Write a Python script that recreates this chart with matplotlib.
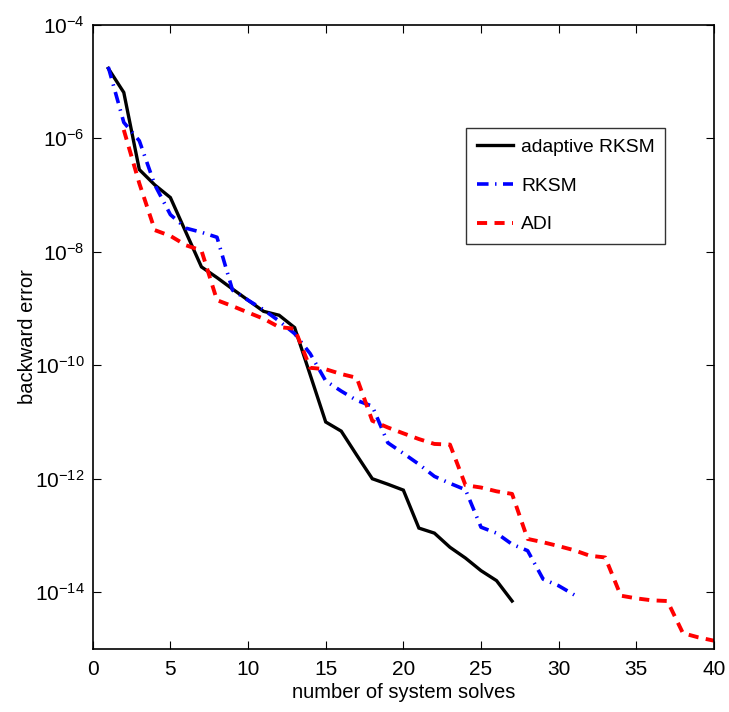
import matplotlib
matplotlib.use("Agg")
import matplotlib.pyplot as plt
from matplotlib.ticker import LogFormatterMathtext, NullLocator

plt.rcParams['font.family'] = ['Liberation Sans', 'DejaVu Sans']
plt.rcParams['mathtext.fontset'] = 'custom'
plt.rcParams['mathtext.rm'] = 'Liberation Sans'
plt.rcParams['mathtext.it'] = 'Liberation Sans'
plt.rcParams['mathtext.bf'] = 'Liberation Sans'

# adaptive RKSM
x_adapt = list(range(1, 28))
y_adapt = [1.7e-5, 6.4e-6, 2.8e-7, 1.5e-7, 9.0e-8, 2.2e-8, 5.4e-9, 3.5e-9, 2.2e-9,
           1.4e-9, 8.9e-10, 7.6e-10, 4.6e-10, 6.8e-11, 1.0e-11, 6.9e-12, 2.6e-12,
           1.0e-12, 8.0e-13, 6.3e-13, 1.35e-13, 1.1e-13, 6.2e-14, 4.0e-14, 2.4e-14,
           1.6e-14, 7.0e-15]

# RKSM
x_rksm = list(range(1, 32))
y_rksm = [1.8e-5, 1.9e-6, 9.0e-7, 1.5e-7, 4.5e-8, 2.6e-8, 2.2e-8, 1.8e-8, 2.1e-9,
          1.4e-9, 9.5e-10, 6.0e-10, 3.6e-10, 1.6e-10, 5.3e-11, 3.5e-11, 2.4e-11,
          1.9e-11, 4.3e-12, 2.8e-12, 1.8e-12, 1.1e-12, 8.3e-13, 6.4e-13, 1.4e-13,
          1.1e-13, 7.0e-14, 5.4e-14, 1.7e-14, 1.3e-14, 9.0e-15]

# ADI
x_adi = list(range(2, 41))
y_adi = [1.4e-6, 1.6e-7, 2.4e-8, 1.9e-8, 1.3e-8, 1.05e-8, 1.4e-9, 1.1e-9, 8.5e-10,
         6.6e-10, 4.7e-10, 4.4e-10, 9.0e-11, 8.5e-11, 7.0e-11, 6.0e-11, 1.05e-11,
         8.0e-12, 6.3e-12, 5.0e-12, 4.1e-12, 4.0e-12, 7.7e-13, 7.0e-13, 6.0e-13,
         5.4e-13, 8.7e-14, 7.6e-14, 6.5e-14, 5.5e-14, 4.4e-14, 4.1e-14, 8.7e-15,
         7.8e-15, 7.2e-15, 7.0e-15, 1.9e-15, 1.6e-15, 1.4e-15]

labels = ['adaptive RKSM', 'RKSM', 'ADI']
xticks = [0, 5, 10, 15, 20, 25, 30, 35, 40]
yticks = [1e-14, 1e-12, 1e-10, 1e-8, 1e-6, 1e-4]

fig = plt.figure(figsize=(7.29, 7.12), dpi=100)
ax = fig.add_axes([0.1272, 0.0885, 0.8522, 0.8768])

ax.semilogy(x_adapt, y_adapt, color='black', lw=2.4, ls='-', label=labels[0],
            solid_joinstyle='miter')
ax.semilogy(x_rksm, y_rksm, color='#0000ff', lw=2.6, label=labels[1],
            dashes=(3.2, 1.8, 0.4, 1.8))
ax.semilogy(x_adi, y_adi, color='#ff0000', lw=2.8, label=labels[2],
            dashes=(2.6, 1.9))

ax.set_xlim(0, 40)
ax.set_ylim(1e-15, 1e-4)
ax.set_xticks(xticks)
ax.set_yticks(yticks)
ax.yaxis.set_major_formatter(LogFormatterMathtext(base=10.0))
ax.yaxis.set_minor_locator(NullLocator())

ax.tick_params(which='both', direction='in', top=True, right=True,
               length=6, width=0.8, labelsize=15, colors='black')
ax.tick_params(axis='x', pad=8)
ax.tick_params(axis='y', pad=6)
for s in ax.spines.values():
    s.set_linewidth(1.2)

ax.set_xlabel('number of system solves', fontsize=14.5, labelpad=3)
ax.set_ylabel('backward error', fontsize=14.5)
ax.yaxis.set_label_coords(-0.089, 0.5)

leg = ax.legend(loc='upper left', bbox_to_anchor=(0.601, 0.835), borderaxespad=0,
                fontsize=13.9, frameon=True, fancybox=False, handlelength=1.9,
                handletextpad=0.4, labelspacing=1.1, borderpad=0.55)
leg.get_frame().set_edgecolor('black')
leg.get_frame().set_linewidth(1.0)

fig.savefig('out.png', dpi=100, facecolor='white')
